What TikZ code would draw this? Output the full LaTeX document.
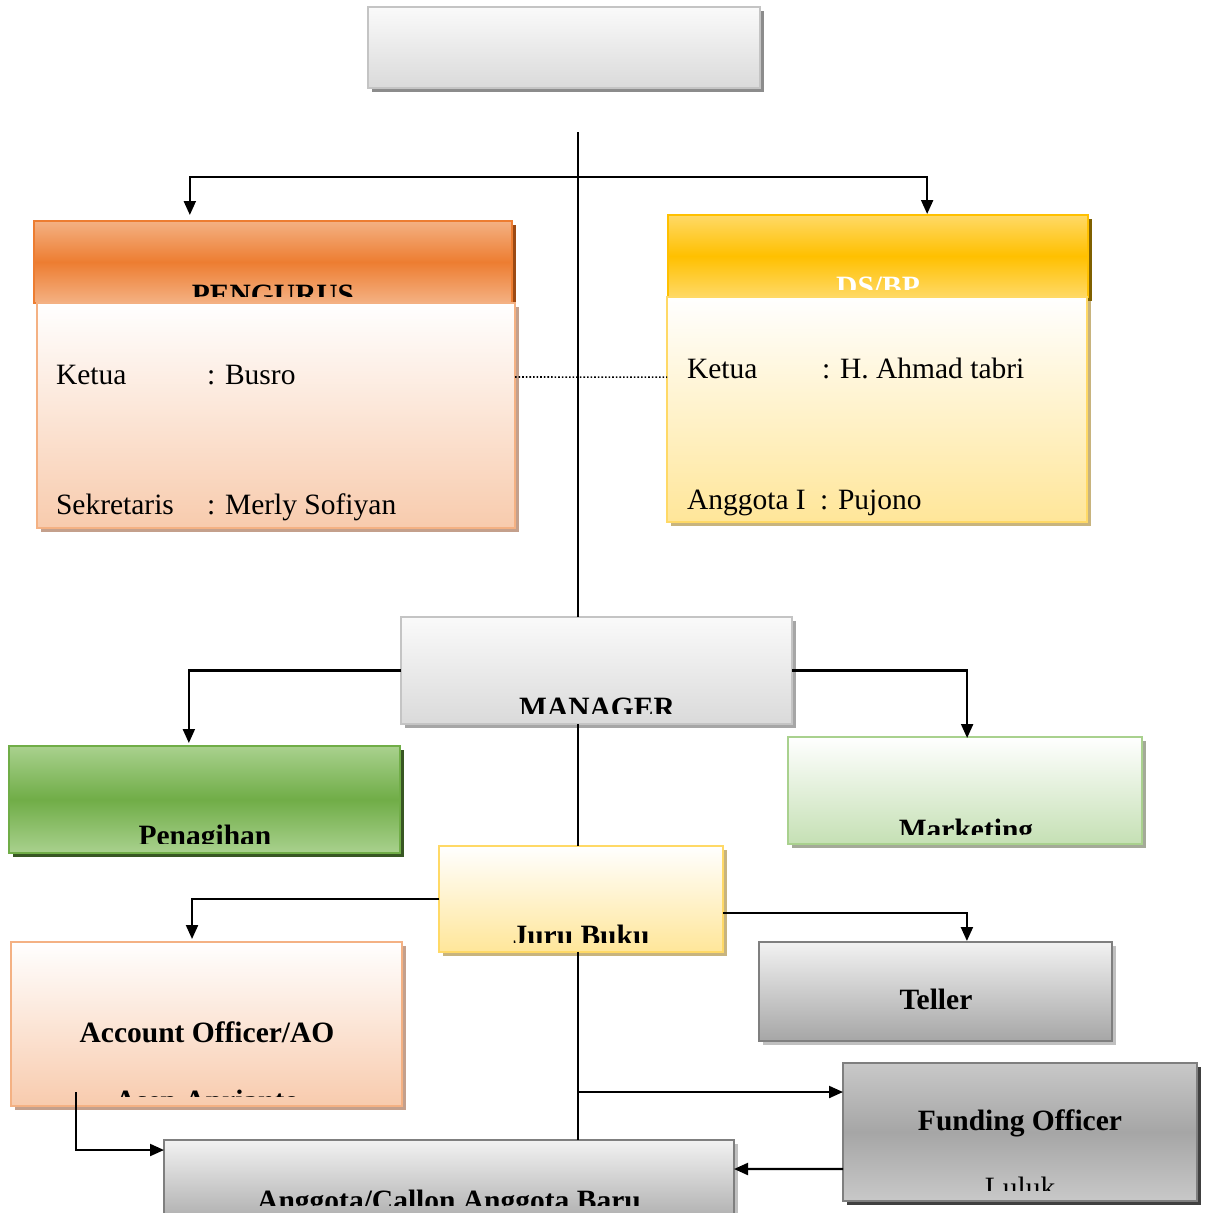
\documentclass[tikz,border=0pt]{standalone}
\usepackage{fontspec}
\setmainfont{Liberation Serif}
\usetikzlibrary{arrows.meta,calc,shadows}
\definecolor{grayT}{HTML}{FAFAFA}
\definecolor{grayB}{HTML}{DADADA}
\definecolor{grayBd}{HTML}{C4C4C4}
\definecolor{orL}{HTML}{F4B183}
\definecolor{orM}{HTML}{ED7D31}
\definecolor{orSh}{HTML}{9C4A14}
\definecolor{peach}{HTML}{F8CBAD}
\definecolor{peachSh}{HTML}{C4A08C}
\definecolor{goL}{HTML}{FFD966}
\definecolor{goM}{HTML}{FFC000}
\definecolor{goSh}{HTML}{7F6000}
\definecolor{ylw}{HTML}{FFE699}
\definecolor{ylwSh}{HTML}{C8B47E}
\definecolor{grL}{HTML}{A9D18E}
\definecolor{grM}{HTML}{70AD47}
\definecolor{grSh}{HTML}{385723}
\definecolor{ltgr}{HTML}{C5E0B4}
\definecolor{ltgrSh}{HTML}{A4AA98}
\definecolor{dgT}{HTML}{F2F2F2}
\definecolor{dgB}{HTML}{A6A6A6}
\definecolor{dgBd}{HTML}{7F7F7F}
\definecolor{foT}{HTML}{C8C8C8}
\definecolor{dgSh}{HTML}{C0C0C0}
\tikzset{
  box/.style n args={4}{rectangle, inner sep=0pt, outer sep=0pt, draw=#3, line width=2.8pt,
    top color=#1, bottom color=#2,
    drop shadow={shadow xshift=4pt, shadow yshift=-4pt, fill=#4, opacity=1}},
  tribox/.style n args={4}{rectangle, inner sep=0pt, outer sep=0pt, draw=#3, line width=2.8pt,
    top color=#1, bottom color=#1, middle color=#2,
    drop shadow={shadow xshift=4pt, shadow yshift=-4pt, fill=#4, opacity=1}},
  txt/.style={inner sep=0pt, outer sep=0pt, font=\fontsize{29.5}{35}\selectfont},
  btxt/.style={inner sep=0pt, outer sep=0pt, font=\fontsize{29.5}{35}\selectfont\bfseries},
  conn/.style={line width=2.1pt, draw=black},
  arr/.style={conn, -{Triangle[length=14pt,width=12pt]}},
}
\begin{document}
\begin{tikzpicture}[x=1pt,y=-1pt]
\useasboundingbox[fill=white] (0,0) rectangle (1207,1213);

% top box
\node[box={grayT}{grayB}{grayBd}{gray!90}, minimum width=392pt, minimum height=81pt] (top) at (564,47.5) {};

% PENGURUS
\node[tribox={orL}{orM}{orM}{orSh}, minimum width=478pt, minimum height=82pt] (pengh) at (273,262) {};
\begin{scope}
\clip (34,221) rectangle (512,296);
\node[btxt, anchor=base] (tpeng) at (273,304) {PENGURUS};
\end{scope}
\node[box={white}{peach}{orL}{peachSh}, minimum width=478pt, minimum height=225pt] (pengb) at (276,415.5) {};
\node[txt, anchor=base west] (k1) at (56,384) {Ketua};
\node[txt, anchor=base west] (k1v) at (207,384) {: Busro};
\node[txt, anchor=base west] (s1) at (56,514) {Sekretaris};
\node[txt, anchor=base west] (s1v) at (207,514) {: Merly Sofiyan};

% DS/BP
\node[tribox={goL}{goM}{goM}{goSh}, minimum width=420pt, minimum height=82pt] (dsh) at (878,256) {};
\begin{scope}
\clip (668,215) rectangle (1088,289);
\node[btxt, anchor=base, text=white] (tds) at (878,296) {DS/BP};
\end{scope}
\node[box={white}{ylw}{goL}{ylwSh}, minimum width=420pt, minimum height=225pt] (dsb) at (877,409.5) {};
\node[txt, anchor=base west] (k2) at (687,378) {Ketua};
\node[txt, anchor=base west] (k2v) at (822,378) {: H. Ahmad tabri};
\node[txt, anchor=base west] (a2) at (687,509) {Anggota I};
\node[txt, anchor=base west] (a2v) at (820,509) {: Pujono};

% MANAGER
\node[box={grayT}{grayB}{grayBd}{gray!70}, minimum width=391pt, minimum height=107pt] (mgr) at (596.5,670.5) {};
\begin{scope}
\clip (401,617) rectangle (792,713);
\node[btxt, anchor=base] (tmgr) at (597,717) {MANAGER};
\end{scope}

% Penagihan
\node[tribox={grL}{grM}{grM}{grSh}, minimum width=391pt, minimum height=107pt] (pen) at (204.5,799.5) {};
\begin{scope}
\clip (9,746) rectangle (400,843);
\node[btxt, anchor=base] (tpen) at (205,845) {Penagihan};
\end{scope}

% Marketing
\node[box={white}{ltgr}{grL}{ltgrSh}, minimum width=354pt, minimum height=107pt] (mkt) at (965,790.5) {};
\begin{scope}
\clip (788,737) rectangle (1142,834);
\node[btxt, anchor=base] (tmkt) at (966,839) {Marketing};
\end{scope}

% Juru Buku
\node[box={white}{ylw}{goL}{ylwSh}, minimum width=284pt, minimum height=106pt] (jb) at (581,899) {};
\begin{scope}
\clip (439,846) rectangle (723,942);
\node[btxt, anchor=base] (tjb) at (581,945) {Juru Buku};
\end{scope}

% Account Officer
\node[box={white}{peach}{orL}{peachSh}, minimum width=391pt, minimum height=164pt] (ao) at (206.5,1024) {};
\node[btxt, anchor=base] (tao) at (207,1042) {Account Officer/AO};
\begin{scope}
\clip (11,942) rectangle (402,1096);
\node[btxt, anchor=base] (tao2) at (207,1110) {Asep Aprianto};
\end{scope}

% Teller
\node[box={dgT}{dgB}{dgBd}{dgSh}, minimum width=353pt, minimum height=99pt] (tel) at (935.5,991.5) {};
\node[btxt, anchor=base] (ttel) at (936,1009) {Teller};

% Funding Officer
\node[tribox={foT}{dgB}{dgBd}{gray!50!black}, minimum width=354pt, minimum height=138pt] (fo) at (1020,1132) {};
\node[btxt, anchor=base] (tfo) at (1020,1130) {Funding Officer};
\begin{scope}
\clip (843,1063) rectangle (1197,1190);
\node[txt, anchor=base] (tfo2) at (1020,1197) {Luluk};
\end{scope}

% Anggota
\node[box={dgT}{dgB}{dgBd}{dgSh}, minimum width=570pt, minimum height=90pt] (ang) at (449,1185) {};
\begin{scope}
\clip (164,1140) rectangle (734,1205);
\node[btxt, anchor=base] (tang) at (449,1210) {Anggota/Callon Anggota Baru};
\end{scope}

% connectors
\coordinate (vtop) at (578,132);
\coordinate (j1) at (578,177);
\coordinate (j2) at (578,1092);
\coordinate (c3) at (76,1092);
\draw[conn] (vtop) -- (vtop |- mgr.north);
\draw[arr, shorten >=6pt] (j1) -| ($(pengh.north west)!0.326!(pengh.north east)$);
\draw[arr, shorten >=1pt] (j1) -| ($(dsh.north west)!0.617!(dsh.north east)$);
\draw[line width=1.6pt, dotted] ($(pengb.north east)!0.329!(pengb.south east)$) -- ($(dsb.north west)!0.356!(dsb.south west)$);
\draw[arr, shorten >=3pt] (mgr.west) -| ($(pen.north west)!0.46!(pen.north east)$);
\draw[arr, shorten >=-1pt] (mgr.east) -| ($(mkt.north west)!0.506!(mkt.north east)$);
\draw[conn] (vtop |- mgr.south) -- (vtop |- jb.north);
\draw[conn] (vtop |- jb.south) -- (vtop |- ang.north);
\draw[arr, shorten >=3pt] (jb.west) -| ($(ao.north west)!0.463!(ao.north east)$);
\draw[arr, shorten >=1pt] ($(jb.north east)!0.632!(jb.south east)$) -| ($(tel.north west)!0.589!(tel.north east)$);
\draw[arr] (j2) -- (j2 -| fo.west);
\draw[arr] ($(fo.north west)!0.768!(fo.south west)$) -- ($(ang.north east)+(0,29)$);
\draw[arr] (c3) |- ($(ang.north west)+(0,10)$);
\end{tikzpicture}
\end{document}
